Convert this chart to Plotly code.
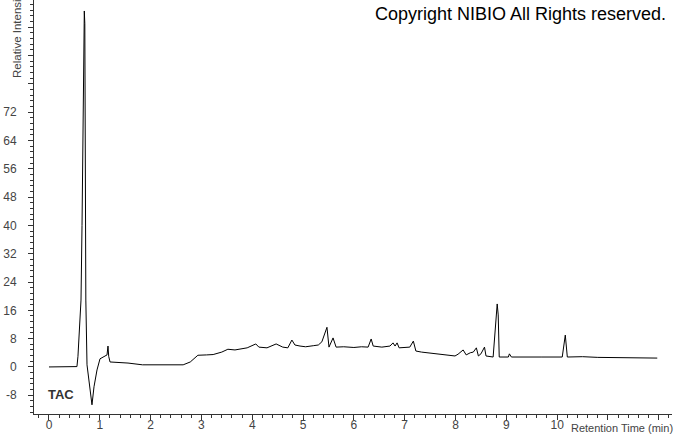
import plotly.graph_objects as go

# Retention time (min) and relative intensity
times = [0.00, 0.30, 0.55, 0.57, 0.61, 0.63, 0.65, 0.67, 0.685, 0.695, 0.705, 0.715, 0.725,
         0.748, 0.787, 0.846, 0.886, 0.945, 1.004, 1.063, 1.142, 1.161, 1.175, 1.201,
         1.555, 1.84, 2.64, 2.78, 2.93, 3.10, 3.23, 3.40, 3.52, 3.66, 3.80, 3.90, 4.07, 4.13,
         4.29, 4.47, 4.60, 4.70, 4.78, 4.84, 4.94, 5.05, 5.20, 5.30, 5.37, 5.47, 5.51, 5.59,
         5.65, 5.80, 6.00, 6.15, 6.28, 6.34, 6.38, 6.55, 6.71, 6.77, 6.81, 6.85, 6.89, 7.05,
         7.10, 7.17, 7.22, 7.33, 7.44, 7.60, 7.76, 7.99, 8.05, 8.15, 8.21, 8.29, 8.35, 8.41,
         8.45, 8.50, 8.57, 8.60, 8.74, 8.78, 8.82, 8.84, 8.86, 9.04, 9.06, 9.10, 9.40, 9.70,
         10.10, 10.13, 10.16, 10.20, 10.50, 10.80, 11.20, 11.60, 11.97]
intensity = [0.0, 0.0, 0.1, 3.0, 11.5, 18.9, 40.0, 74.0, 96.0, 100.6, 97.0, 60.0, 18.9,
             0.6, -4.5, -10.7, -5.6, -0.85, 2.3, 2.8, 3.4, 5.9, 3.0, 1.4,
             1.1, 0.6, 0.6, 1.4, 3.3, 3.4, 3.5, 4.2, 5.0, 4.8, 5.2, 5.4, 6.5, 5.6,
             5.4, 6.5, 5.6, 5.4, 7.6, 6.2, 5.9, 5.7, 6.0, 6.2, 7.1, 11.2, 5.6, 8.2,
             5.6, 5.7, 5.5, 5.7, 5.6, 7.9, 5.9, 5.6, 5.9, 6.8, 5.9, 6.8, 5.4, 5.4,
             5.6, 7.3, 4.5, 4.2, 4.0, 3.8, 3.4, 3.1, 3.6, 4.8, 3.4, 4.0, 4.2, 5.4,
             3.1, 3.7, 5.6, 3.1, 2.8, 9.9, 17.8, 14.7, 2.8, 2.8, 3.7, 2.8, 2.9, 2.8,
             2.8, 5.4, 9.0, 2.8, 2.9, 2.7, 2.6, 2.6, 2.5]

x_tick_vals = list(range(0, 13))
x_tick_text = [str(v) if v <= 10 else "" for v in x_tick_vals]
y_tick_vals = list(range(-8, 104, 8))
y_tick_text = [str(v) if v <= 72 else "" for v in y_tick_vals]

FONT = "Liberation Sans, Arial, sans-serif"
GRAY = "#444444"

fig = go.Figure()
fig.add_trace(go.Scatter(x=times, y=intensity, mode="lines",
                         line=dict(color="black", width=1), showlegend=False,
                         hoverinfo="skip"))

fig.update_layout(
    width=674, height=434,
    margin=dict(l=34, r=2, t=0, b=20, autoexpand=False),
    paper_bgcolor="white", plot_bgcolor="white",
    font=dict(family=FONT, size=12, color=GRAY),
    xaxis=dict(range=[-0.295, 12.26], showgrid=False, zeroline=False, automargin=False,
               showline=True, linecolor="#333333", linewidth=1,
               ticks="outside", ticklen=5, tickcolor="#333333",
               tickvals=x_tick_vals, ticktext=x_tick_text,
               tickfont=dict(family=FONT, size=12, color=GRAY),
               ticklabelstandoff=-5,
               minor=dict(ticks="outside", ticklen=3, dtick=0.2, tickcolor="#333333")),
    yaxis=dict(range=[-13.3, 103.7], showgrid=False, zeroline=False, automargin=False,
               showline=True, linecolor="#333333", linewidth=1,
               ticks="outside", ticklen=5, tickcolor="#333333",
               tickvals=y_tick_vals, ticktext=y_tick_text,
               tickfont=dict(family=FONT, size=12, color=GRAY),
               ticklabelstandoff=9,
               minor=dict(ticks="outside", ticklen=3, dtick=1.6, tickcolor="#333333")),
    annotations=[
        dict(text="Copyright NIBIO All Rights reserved.", xref="paper", yref="paper",
             x=1.0, xanchor="right", y=1.0, yanchor="top", xshift=-4, yshift=-2,
             showarrow=False, font=dict(family=FONT, size=18, color="black")),
        dict(text="<b>TAC</b>", xref="x", yref="y", x=-0.05, xanchor="left",
             y=-7.8, yanchor="middle", showarrow=False,
             font=dict(family=FONT, size=13, color="#333333")),
        dict(text="Retention Time (min)", xref="paper", yref="paper",
             x=1.0, xanchor="right", y=0, yanchor="top", yshift=-6, xshift=3,
             showarrow=False, font=dict(family=FONT, size=11, color=GRAY)),
        dict(text="Relative Intensity", xref="paper", yref="paper",
             x=0.0, xanchor="center", xshift=-17, y=1.0, yanchor="bottom",
             yshift=-80, textangle=-90, showarrow=False,
             font=dict(family=FONT, size=11.5, color=GRAY)),
    ],
)

fig.write_html("out.html", config={"displayModeBar": False},
               post_script="document.body.style.margin='0';document.body.style.padding='0';")
